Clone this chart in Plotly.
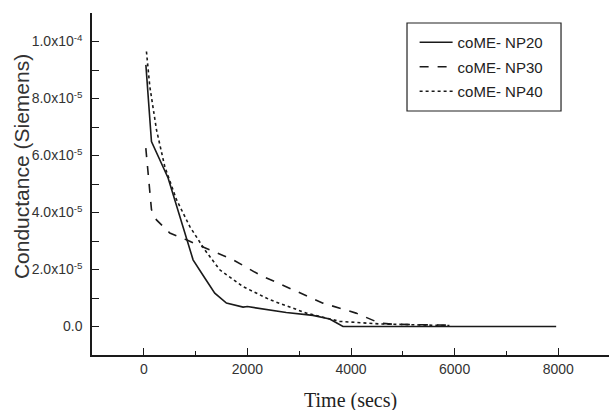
import plotly.graph_objects as go

# NP20 (solid)
t20 = [40, 148, 469, 694, 823, 951, 1177, 1370, 1595, 1916, 2000, 2400, 2750, 3265, 3588, 3700, 3845, 5000, 6500, 7960]
g20 = [9.18e-5, 6.49e-5, 5.21e-5, 3.86e-5, 3.10e-5, 2.34e-5, 1.70e-5, 1.17e-5, 0.82e-5, 0.68e-5, 0.70e-5, 0.60e-5, 0.49e-5, 0.39e-5, 0.26e-5, 0.15e-5, 0.0, 0.0, 0.0, 0.0]

# NP30 (dashed)
t30 = [39, 148, 245, 502, 823, 1209, 1723, 2238, 2816, 3459, 4097, 4552, 4800, 5100, 5400, 5838]
g30 = [6.26e-5, 4.10e-5, 3.74e-5, 3.28e-5, 3.04e-5, 2.75e-5, 2.34e-5, 1.81e-5, 1.35e-5, 0.82e-5, 0.47e-5, 0.12e-5, 0.08e-5, 0.06e-5, 0.06e-5, 0.05e-5]

# NP40 (dotted)
t40 = [51, 116, 245, 405, 631, 887, 1177, 1466, 1916, 2431, 3138, 3781, 4552, 5200, 5900]
g40 = [9.65e-5, 8.42e-5, 6.90e-5, 5.61e-5, 4.45e-5, 3.51e-5, 2.69e-5, 1.99e-5, 1.40e-5, 0.94e-5, 0.47e-5, 0.18e-5, 0.09e-5, 0.05e-5, 0.03e-5]

ytickvals = [0, 2e-5, 4e-5, 6e-5, 8e-5, 1e-4]
yticktext = ["0.0", "2.0x10<sup>-5</sup>", "4.0x10<sup>-5</sup>", "6.0x10<sup>-5</sup>",
             "8.0x10<sup>-5</sup>", "1.0x10<sup>-4</sup>"]
xtickvals = [0, 2000, 4000, 6000, 8000]

ink = "#1a1a1a"
fig = go.Figure()
fig.add_trace(go.Scatter(x=t20, y=g20, mode="lines", name="coME- NP20", legendgroup="a",
                         line=dict(color=ink, width=1.6)))
fig.add_trace(go.Scatter(x=t30, y=g30, mode="lines", name="coME- NP30", legendgroup="b",
                         line=dict(color=ink, width=1.6, dash="dash")))
fig.add_trace(go.Scatter(x=t40, y=g40, mode="lines", name="coME- NP40", legendgroup="c",
                         line=dict(color=ink, width=1.6, dash="dot")))

axis_font = dict(family="Liberation Sans, Arial", size=14, color="#333")
fig.update_layout(
    width=609, height=410,
    margin=dict(l=92, r=0, t=13, b=55),
    paper_bgcolor="white", plot_bgcolor="white",
    showlegend=True,
    legend=dict(x=0.624, y=0.962, xanchor="left", yanchor="top",
                borderwidth=0, bgcolor="rgba(0,0,0,0)",
                font=dict(family="Liberation Sans, Arial", size=15, color="#222"),
                tracegroupgap=2, itemwidth=33),
    shapes=[dict(type="rect", xref="paper", yref="paper",
                 x0=0.6093, x1=0.9072, y0=0.7135, y1=0.9708,
                 line=dict(color="#222", width=1.2), fillcolor="rgba(0,0,0,0)")],
    xaxis=dict(range=[-1000, 8980], showgrid=False, zeroline=False,
               showline=True, linecolor=ink, linewidth=1.5,
               tickvals=xtickvals, ticks="inside", ticklen=7, tickcolor=ink, tickwidth=1.3,
               minor=dict(dtick=1000, ticks="inside", ticklen=4, tickcolor=ink, tickwidth=1.3),
               tickfont=axis_font),
    yaxis=dict(range=[-1e-5, 1.1e-4], showgrid=False, zeroline=False,
               showline=True, linecolor=ink, linewidth=1.5,
               tickvals=ytickvals, ticktext=yticktext, ticks="inside", ticklen=7,
               tickcolor=ink, tickwidth=1.3, ticklabelstandoff=5,
               minor=dict(dtick=1e-5, ticks="inside", ticklen=7, tickcolor=ink, tickwidth=1.3),
               tickfont=axis_font),
    annotations=[
        dict(text="Conductance (Siemens)", textangle=-90, xref="paper", yref="paper",
             x=-0.135, y=0.55, xanchor="center", yanchor="middle", showarrow=False,
             font=dict(family="Liberation Sans, Arial", size=21, color="#333")),
        dict(text="Time (secs)", xref="paper", yref="paper", x=0.5, y=-0.1316,
             xanchor="center", yanchor="middle", showarrow=False,
             font=dict(family="Liberation Serif, Times New Roman", size=20, color="#222")),
    ],
)
fig.write_html("out.html")
